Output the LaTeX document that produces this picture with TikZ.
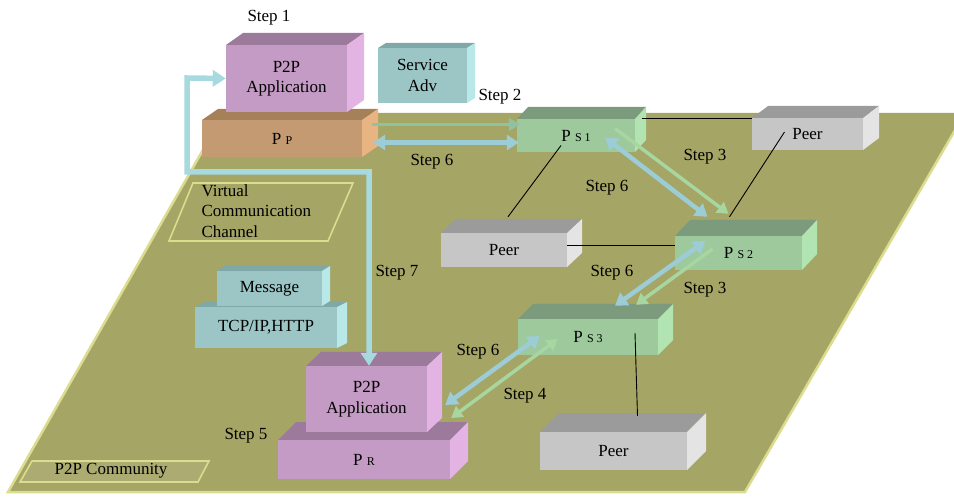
\documentclass[tikz,border=0pt]{standalone}
\usepackage{fontspec}
\IfFontExistsTF{LiberationSerif-Regular.ttf}
  {\setmainfont{LiberationSerif}[Extension=.ttf, UprightFont=*-Regular,
     BoldFont=*-Bold, ItalicFont=*-Italic, BoldItalicFont=*-BoldItalic]}
  {\setmainfont{Liberation Serif}}
\usetikzlibrary{arrows.meta}

% colours of the faces: F front, T top, S side
\definecolor{planecol}{HTML}{A5A566}
\definecolor{rimcol}{HTML}{DCDC8E}
\definecolor{appF}{HTML}{C49BC4}\definecolor{appT}{HTML}{9C7A9C}\definecolor{appS}{HTML}{E3B4E3}
\definecolor{ppF}{HTML}{C49A72}\definecolor{ppT}{HTML}{A58058}\definecolor{ppS}{HTML}{E8B482}
\definecolor{advF}{HTML}{9CC6C6}\definecolor{advT}{HTML}{7FA9A9}\definecolor{advS}{HTML}{B8E8E8}
\definecolor{psF}{HTML}{9DC99D}\definecolor{psT}{HTML}{7C9B7C}\definecolor{psS}{HTML}{B2E4B2}
\definecolor{peerF}{HTML}{C6C6C6}\definecolor{peerT}{HTML}{9B9B9B}\definecolor{peerS}{HTML}{E4E4E4}
\definecolor{pipecol}{HTML}{A6DADE}
\definecolor{bluearr}{HTML}{9CCDD6}
\definecolor{greenarr}{HTML}{A8D6A0}
\definecolor{tealarr}{HTML}{8FC2A0}

\newcommand{\sub}[1]{{\fontsize{12}{14}\selectfont #1}}

% 3d block: name, left, top, right, bottom, depth x, depth y, colour, text
\newcommand{\blok}[9]{%
  \fill[#8T] (#2,#3) -- ++(#6,-#7) -- ++(#4-#2,0) -- (#4,#3) -- cycle;
  \fill[#8S] (#4,#3) -- ++(#6,-#7) -- ++(0,#5-#3) -- (#4,#5) -- cycle;
  \pgfmathsetmacro\bw{#4-#2}\pgfmathsetmacro\bh{#5-#3}
  \node[lbl, fill=#8F, minimum width=\bw pt, minimum height=\bh pt, inner sep=0pt, align=center]
    (#1) at ({(#2+#4)/2},{(#3+#5)/2}) {#9};
}

\tikzset{
  lbl/.style={font=\fontsize{17}{20.5}\selectfont},
  link/.style={draw=black, line width=0.9pt},
  rim/.style={draw=rimcol, line width=1.6pt},
  twoway/.style={line width=4.5pt, draw=bluearr,
    {Triangle[width=15pt,length=12pt]}-{Triangle[width=15pt,length=12pt]}},
  oneway/.style={line width=3.5pt, draw=greenarr, -{Triangle[width=13pt,length=11pt]}},
}

\begin{document}
\begin{tikzpicture}[x=1pt,y=-1pt]
\path[use as bounding box, clip] (0,0) rectangle (954,497);

% community plane
\fill[planecol] (224,113) -- (965,113) -- (745,492) -- (8,492) -- cycle;
\draw[draw=rimcol, line width=2.5pt] (965,113) -- (745,492) -- (8,492) -- (224,113);

% labels lying on the plane
\draw[rim] (193,183) -- (353,183) -- (328,241) -- (169,241) -- cycle;
\node[lbl, align=left, anchor=west] (vcc) at (198,211) {Virtual\\Communication\\Channel};
\filldraw[rim, fill=planecol!92!white] (32,461) -- (209,461) -- (198,482) -- (20,482) -- cycle;
\node[lbl] (community) at (111,471) {P2P Community};

% blocks
\blok{pp}{202}{120}{362}{157}{16}{11}{pp}{P \sub{P}}
\blok{app1}{226}{45}{347}{112}{17}{12}{app}{P2P\\Application}
\blok{adv}{378}{48}{467}{103}{8}{5}{adv}{Service\\Adv}
\blok{peer1}{752}{118}{863}{150}{16}{12}{peer}{Peer}
\blok{ps1}{517}{119}{635}{152}{11}{12}{ps}{P \sub{S 1}}
\blok{peer2}{441}{233}{567}{267}{15}{14}{peer}{Peer}
\blok{ps2}{675}{236}{802}{270}{15}{16}{ps}{P \sub{S 2}}
\blok{ps3}{518}{319}{658}{355}{15}{15}{ps}{P \sub{S 3}}
\blok{tcp}{195}{307}{337}{348}{10}{5}{adv}{TCP/IP,HTTP}
\blok{msg}{217}{271}{322}{306}{8}{5}{adv}{Message}
\blok{peer3}{540}{432}{687}{470}{19}{19}{peer}{Peer}
\blok{pr}{278}{440}{450}{479}{18}{18}{app}{P \sub{R}}
\blok{app2}{306}{366}{427}{432}{15}{14}{app}{P2P\\Application}

% peer links
\draw[link] ([xshift=7pt]ps1.north east) -- (peer1.north west |- ps1.north east);
\draw[link] ([shift={(-15,10)}]ps1.center) -- ([shift={(4,-16)}]peer2.north);
\draw[link] ([shift={(-23,-2)}]peer1.center) -- ([shift={(-9,-19)}]ps2.north);
\draw[link] ([yshift=5pt]peer2.east) -- ([yshift=5pt]peer2.east -| ps2.west);
\draw[link] ([shift={(47,-4)}]ps3.center) -- ([shift={(24,-16)}]peer3.north);

% virtual communication channel
\coordinate (bendA) at (187,78);
\coordinate (bendB) at (187,172);
\coordinate (bendC) at (369,172);
\draw[line width=5.5pt, draw=pipecol, line join=miter,
  {Triangle[width=16pt,length=13pt]}-{Triangle[width=16pt,length=13pt]}]
  (app1.west) -- (bendA) -- (bendB) -- (bendC) -- (bendC |- app2.north);

% messages between the peers
\draw[oneway, draw=tealarr] ([shift={(10,-14)}]pp.east) -- ([shift={(3,-11)}]ps1.west);
\draw[twoway] ([shift={(11,4)}]pp.east) -- ([shift={(2,7)}]ps1.west);
\draw[oneway] ([shift={(39,-7)}]ps1.center) -- ([shift={(-10,-22)}]ps2.north);
\draw[twoway] ([shift={(29,2)}]ps1.center) -- ([shift={(-31,-19)}]ps2.north);
\draw[twoway] ([shift={(-33,-12)}]ps2.center) -- ([shift={(27,-13)}]ps3.north);
\draw[oneway] ([shift={(-26,-4)}]ps2.center) -- ([shift={(48,-14)}]ps3.north);
\draw[twoway] ([shift={(22,-1)}]ps3.west) -- ([shift={(18,6)}]app2.east);
\draw[oneway, {Triangle[width=13pt,length=11pt]}-{Triangle[width=13pt,length=11pt]}]
  ([shift={(40,2)}]ps3.west) -- ([shift={(24,19)}]app2.east);

% step labels
\node[lbl] (st1) at (269,18) {Step 1};
\node[lbl] (st2) at (500,97) {Step 2};
\node[lbl] (st6a) at (432,162) {Step 6};
\node[lbl] (st3a) at (705,157) {Step 3};
\node[lbl] (st6b) at (607,188) {Step 6};
\node[lbl] (st6c) at (612,273) {Step 6};
\node[lbl] (st3b) at (705,290) {Step 3};
\node[lbl] (st7) at (397,273) {Step 7};
\node[lbl] (st6d) at (478,352) {Step 6};
\node[lbl] (st4) at (525,396) {Step 4};
\node[lbl] (st5) at (246,436) {Step 5};
\end{tikzpicture}
\end{document}
